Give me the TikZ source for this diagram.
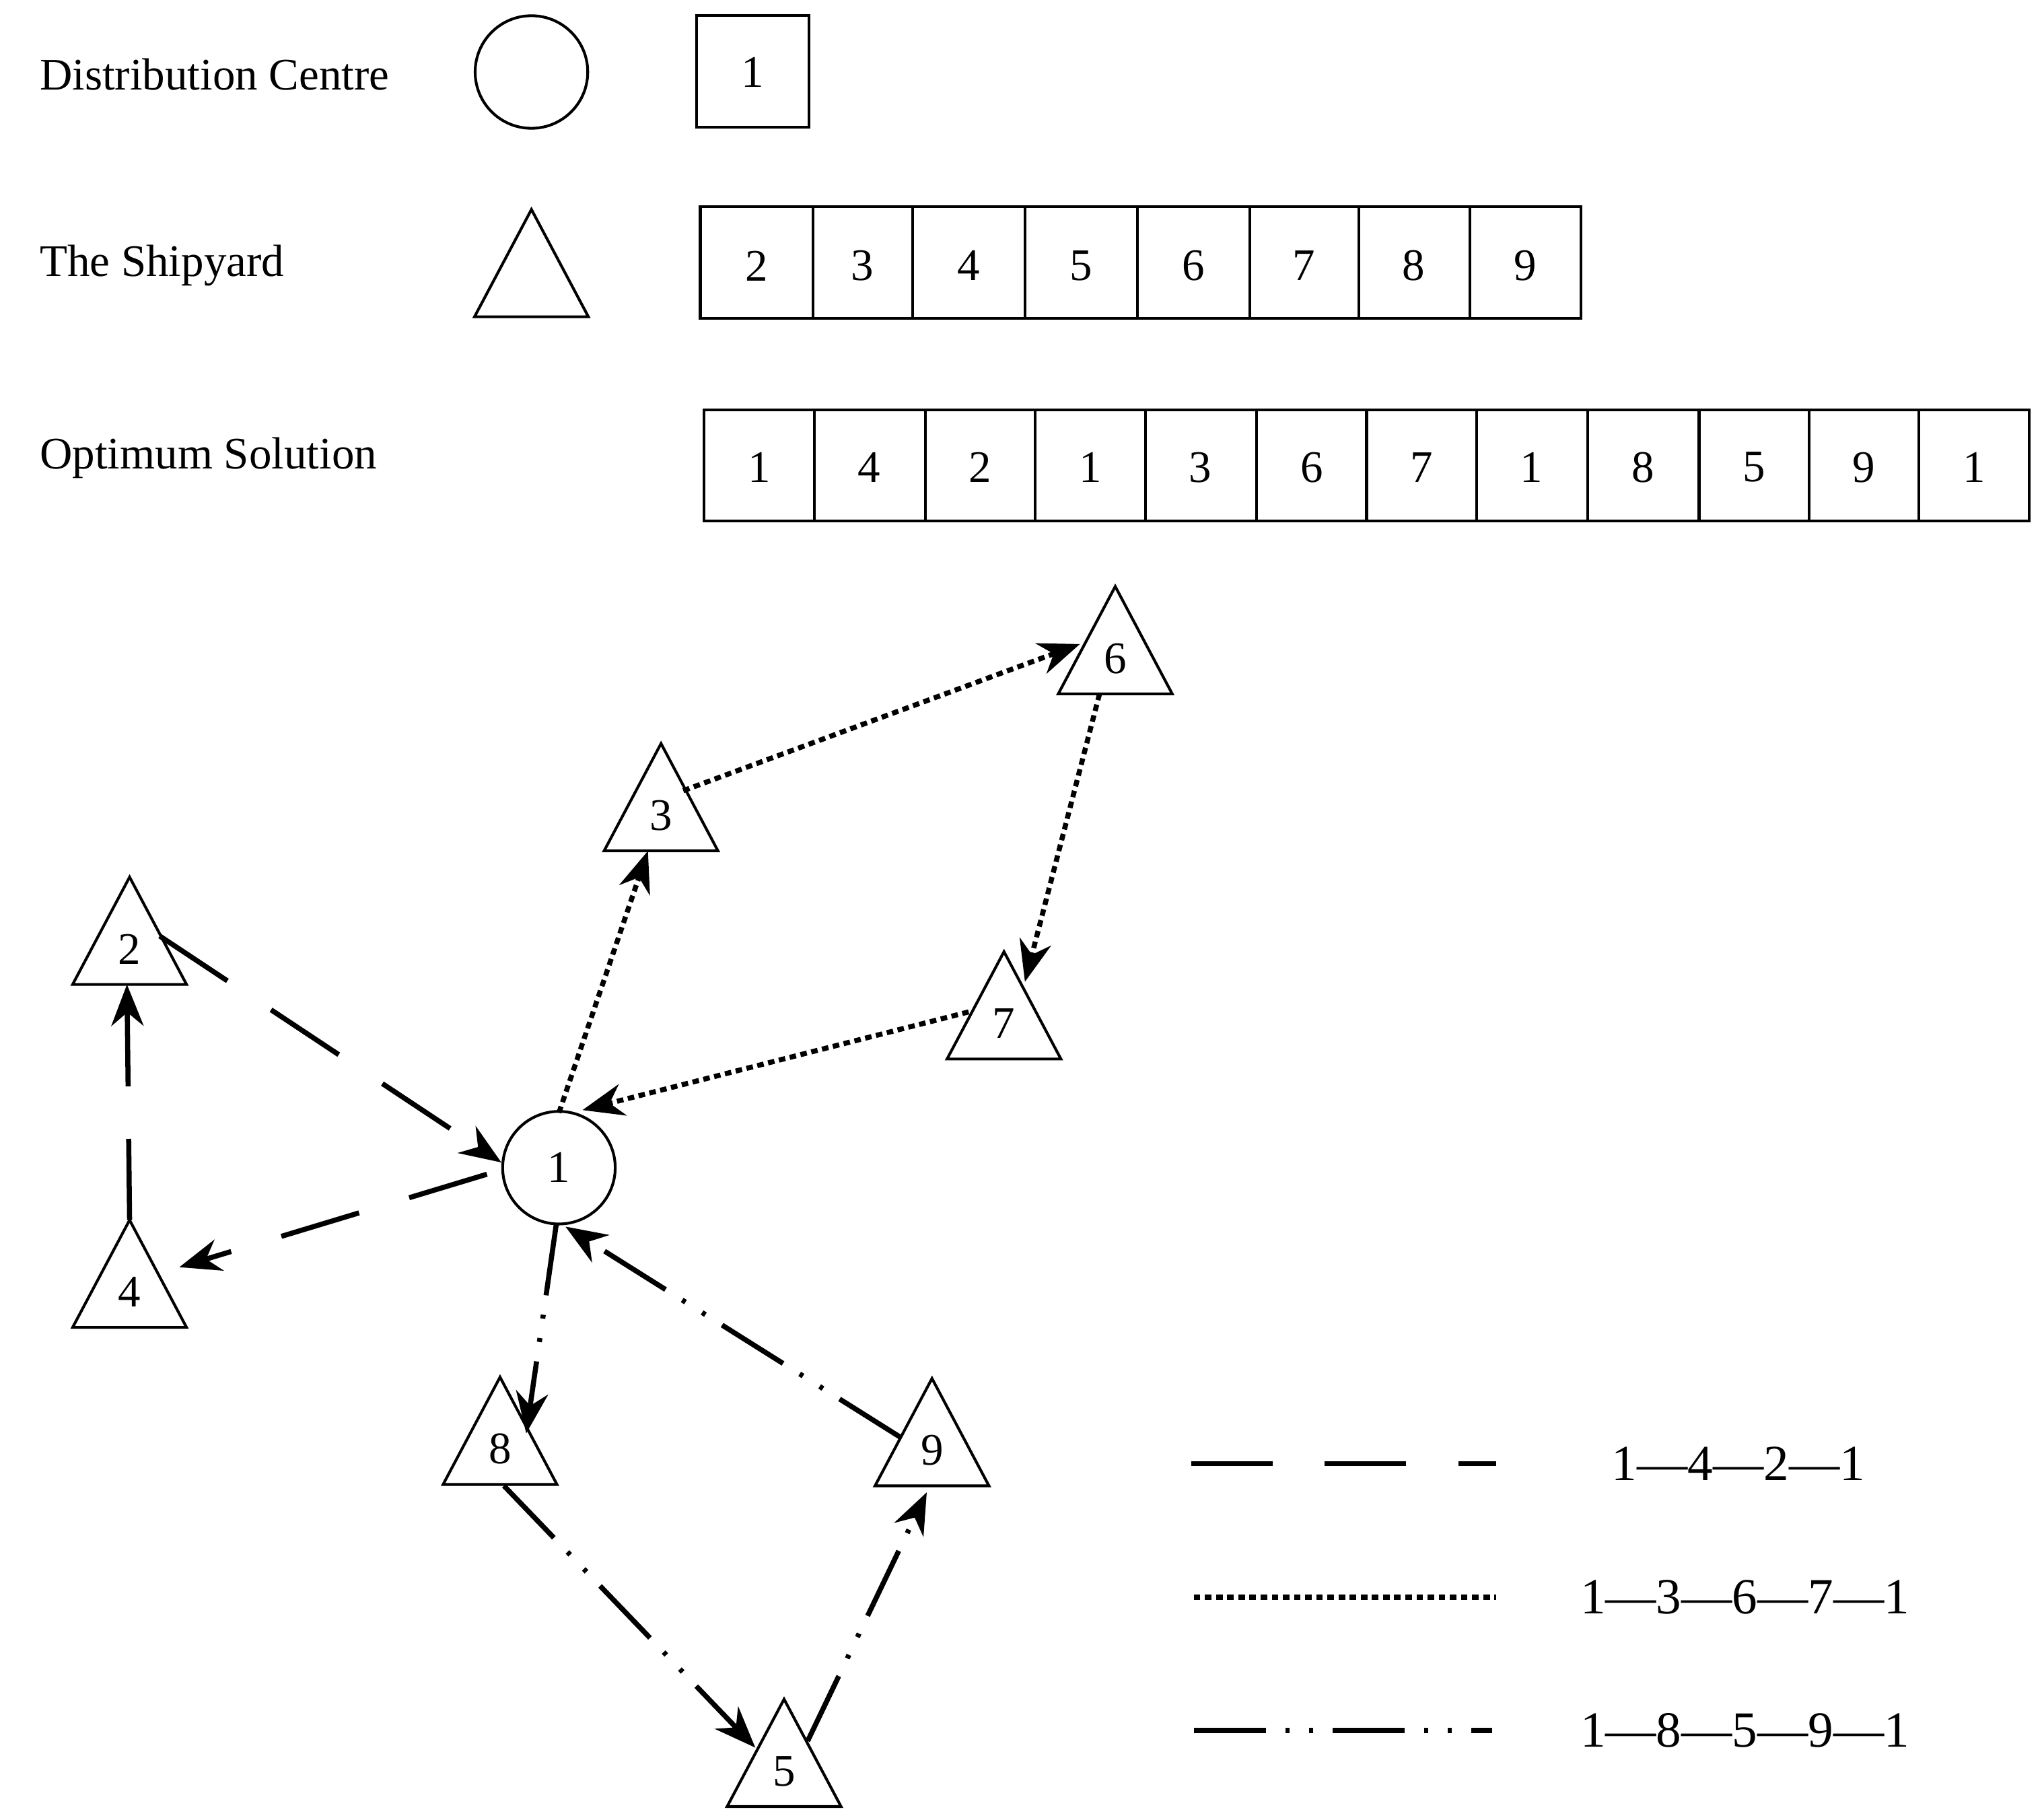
\documentclass[tikz,border=0pt]{standalone}
\usepackage{fontspec}
\setmainfont{Liberation Serif}
\usetikzlibrary{arrows.meta}
\begin{document}
\begin{tikzpicture}[x=0.01cm,y=-0.01cm,
  shp/.style={line width=0.6pt},
  lbl/.style={font=\fontsize{9.8}{11}\selectfont},
  tri/.pic={\draw[shp] (-43.5,41)--(43.5,41)--(0,-41)--cycle;},
  con/.style={line width=1.1pt,-{Stealth[length=9pt,width=7pt]}},
  ld/.style={con,dash pattern=on 0.62cm off 0.4cm},
  sd/.style={con,dash pattern=on 0.05cm off 0.035cm},
  dd/.style={con,dash pattern=on 0.55cm off 0.15cm on 0.03cm off 0.15cm on 0.03cm off 0.15cm}]
\useasboundingbox (0,0) rectangle (1560,1390);
% legend
\node[lbl,anchor=west] (tDC) at (18,57) {Distribution Centre};
\node[lbl,anchor=west] (tSY) at (18,203) {The Shipyard};
\node[lbl,anchor=west] (tOS) at (18,350) {Optimum Solution};
\draw[shp] (406,55) circle (43);
\draw[shp] (532,12) rectangle (618,97);
\node[lbl] (s1) at (575,55) {1};
\pic at (406,201) {tri};
\draw[shp] (535,158) rectangle (1208,243);
\foreach \x in {621,697,783,869,955,1038,1123} \draw[shp] (\x,158)--(\x,243);
\foreach \c/\t in {578/2,659/3,740/4,826/5,912/6,996/7,1080/8,1165/9}
  \node[lbl] (r\t) at (\c,203) {\t};
\draw[shp] (538,313) rectangle (1550,398);
\foreach \x in {622,707,791,875,960,1044,1128,1213,1298,1382,1466} \draw[shp] (\x,313)--(\x,398);
\foreach \c/\t [count=\i] in {580/1,664/4,749/2,833/1,917/3,1002/6,1086/7,1170/1,1255/8,1340/5,1424/9,1508/1}
  \node[lbl] (o\i) at (\c,357) {\t};
% graph nodes
\node[lbl,circle,draw,shp,minimum size=86*0.01cm,inner sep=0pt] (n1) at (427,892) {1};
\foreach \n/\x/\y in {6/852/489,3/505/609,2/99/711,7/767/768,4/99/973,8/382/1093,9/712/1094,5/599/1339}{
  \pic at (\x,\y) {tri};
  \node[lbl] (n\n) at (\x,\y+14) {\n};
}
% endpoints
\coordinate (a1) at (372,897); \coordinate (a4) at (137,968);
\coordinate (b4) at (99,932); \coordinate (b2) at (97,752);
\coordinate (c2) at (122,715); \coordinate (c1) at (383,888);
\coordinate (d1) at (427,850); \coordinate (d3) at (495,650);
\coordinate (e3) at (522,604); \coordinate (e6) at (825,492);
\coordinate (f6) at (840,530); \coordinate (f7) at (783,750);
\coordinate (g7) at (740,773); \coordinate (g1) at (445,848);
\coordinate (h1) at (425,935); \coordinate (h8) at (402,1095);
\coordinate (i8) at (385,1135); \coordinate (i5) at (577,1335);
\coordinate (j5) at (617,1330); \coordinate (j9) at (708,1140);
\coordinate (k9) at (688,1098); \coordinate (k1) at (432,937);
\draw[ld] (a1)--(a4); \draw[ld] (b4)--(b2); \draw[ld] (c2)--(c1);
\draw[sd] (d1)--(d3); \draw[sd] (e3)--(e6); \draw[sd] (f6)--(f7); \draw[sd] (g7)--(g1);
\draw[dd] (h1)--(h8); \draw[dd] (i8)--(i5); \draw[dd] (j5)--(j9); \draw[dd] (k9)--(k1);
% route legend
\coordinate (L1a) at (910,1118); \coordinate (L1b) at (1143,1118);
\coordinate (L2a) at (912,1220); \coordinate (L2b) at (1143,1220);
\coordinate (L3a) at (912,1322); \coordinate (L3b) at (1140,1322);
\draw[ld,-] (L1a)--(L1b); \draw[sd,-] (L2a)--(L2b); \draw[dd,-] (L3a)--(L3b);
\node[font=\fontsize{11}{13}\selectfont] (R1) at (1328,1118) {1—4—2—1};
\node[font=\fontsize{11}{13}\selectfont] (R2) at (1333,1220) {1—3—6—7—1};
\node[font=\fontsize{11}{13}\selectfont] (R3) at (1333,1322) {1—8—5—9—1};
\end{tikzpicture}
\end{document}
